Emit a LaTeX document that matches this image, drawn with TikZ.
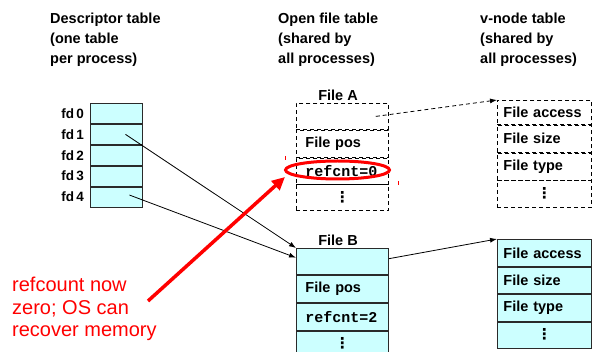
\documentclass[tikz,border=0pt]{standalone}
\usepackage{fontspec}
\setmainfont{Liberation Sans}
\newfontfamily\codefont{Liberation Mono}
\newfontfamily\symfont{DejaVu Sans}
\usetikzlibrary{arrows.meta,shapes.geometric}
\definecolor{cellfill}{HTML}{CCFFFF}
\definecolor{celldraw}{HTML}{2A2A2A}
\definecolor{notered}{HTML}{FF0000}
% vertical ellipsis, lifted a little above the row centre
\newcommand{\rowdots}{\raisebox{2.5pt}{⋮}}

\begin{document}
\begin{tikzpicture}[x=1pt,y=-1pt,
  % multi-line nodes: the base anchor sits on the last line
  heading/.style={anchor=base west, align=left, inner sep=0pt,
    font=\fontsize{14.5}{20}\selectfont\bfseries},
  tablename/.style={anchor=base, inner sep=0pt,
    font=\fontsize{14.5}{16}\selectfont\bfseries},
  fdcell/.style={draw=celldraw, fill=cellfill, line width=0.9pt,
    minimum width=52pt, minimum height=20pt, anchor=north west, inner sep=0pt},
  fdlabel/.style={anchor=east, inner sep=0pt,
    font=\fontsize{13.5}{15}\selectfont\bfseries},
  rowbase/.style={anchor=north west, inner ysep=0pt, align=left,
    font=\fontsize{14.5}{16}\selectfont\bfseries},
  filecell/.style={rowbase, inner xsep=9pt, text width=74pt},
  vcell/.style={rowbase, inner xsep=6pt, text width=82pt},
  solidrow/.style={draw=celldraw, fill=cellfill, line width=0.9pt},
  dashrow/.style={draw=black, line width=0.8pt, dash pattern=on 4pt off 3pt},
  code/.style={font=\fontsize{15}{16}\selectfont\codefont\bfseries},
  dots/.style={align=center, font=\fontsize{15}{15}\selectfont\symfont\bfseries},
  link/.style={draw=black, line width=0.8pt, -{Latex[length=7pt,width=5pt]}},
  dashlink/.style={link, dash pattern=on 4pt off 3pt},
  note/.style={anchor=base west, align=left, inner sep=0pt, text=notered,
    font=\fontsize{20}{22.5}\selectfont},
  notearrow/.style={draw=notered, line width=3.5pt,
    -{Triangle[length=13pt,width=12pt]}},
]
\useasboundingbox (0,0) rectangle (595,352);

% column headings
\node[heading] (h1) at (50,64)  {Descriptor table\\(one table\\per process)};
\node[heading] (h2) at (278,64) {Open file table\\(shared by\\all processes)};
\node[heading] (h3) at (480,64) {v-node table\\(shared by\\all processes)};

% descriptor table
\node[fdcell] (d0) at (90,103) {};
\node[fdcell] (d1) at (d0.south west) {};
\node[fdcell] (d2) at (d1.south west) {};
\node[fdcell] (d3) at (d2.south west) {};
\node[fdcell] (d4) at (d3.south west) {};
\foreach \i in {0,...,4}
  \node[fdlabel] (l\i) at ([xshift=-6pt]d\i.west) {fd\,\i};

% open file table: file A
\node[tablename] (na) at (338,101) {File A};
\node[filecell, dashrow, minimum height=26pt] (fa0) at (296,103) {};
\node[filecell, dashrow, minimum height=27pt] (fa1) at (fa0.south west) {File pos};
\node[filecell, dashrow, minimum height=26pt, code] (fa2) at (fa1.south west) {refcnt=0};
\node[filecell, dashrow, minimum height=26pt, dots] (fa3) at (fa2.south west) {\rowdots};

% open file table: file B
\node[tablename] (nb) at (338,246) {File B};
\node[filecell, solidrow, minimum height=26.5pt] (fb0) at (296,248) {};
\node[filecell, solidrow, minimum height=26.5pt] (fb1) at (fb0.south west) {File pos};
\node[filecell, solidrow, minimum height=27pt, code] (fb2) at (fb1.south west) {refcnt=2};
\node[filecell, solidrow, minimum height=27pt, dots] (fb3) at (fb2.south west) {\rowdots};

% v-node table for file A
\node[vcell, dashrow, minimum height=24pt] (va0) at (497,100) {File access};
\node[vcell, dashrow, minimum height=27pt] (va1) at (va0.south west) {File size};
\node[vcell, dashrow, minimum height=27pt] (va2) at (va1.south west) {File type};
\node[vcell, dashrow, minimum height=27pt, dots] (va3) at (va2.south west) {\rowdots};

% v-node table for file B
\node[vcell, solidrow, minimum height=27pt] (vb0) at (497,239) {File access};
\node[vcell, solidrow, minimum height=26pt] (vb1) at (vb0.south west) {File size};
\node[vcell, solidrow, minimum height=27pt] (vb2) at (vb1.south west) {File type};
\node[vcell, solidrow, minimum height=26pt, dots] (vb3) at (vb2.south west) {\rowdots};

% pointers
\draw[link] ([xshift=9pt]d1.center) -- (fb0.north west);
\draw[link] ([xshift=13pt,yshift=2pt]d4.center) -- ([yshift=4pt]fb0.west);
\draw[dashlink] ([xshift=-13pt]fa0.east) -- (va0.north west);
\draw[link] ([yshift=3pt]fb0.east) -- (vb0.north west);

% highlight of the zero reference count
\node[ellipse, draw=notered, line width=3pt, minimum width=104pt,
      minimum height=18pt, inner sep=0pt] (hl) at (337.5,170) {};
\draw[notered, line width=1pt] (285,156) -- (285,160);
\draw[notered, line width=1pt] (398,181) -- (398,185);

\node[note] (nt) at (12,337) {refcount now\\zero; OS can\\recover memory};
\coordinate (ns) at (148,301);
\draw[notearrow] (ns) -- ([xshift=1pt,yshift=-7pt]hl.west);
\end{tikzpicture}
\end{document}
